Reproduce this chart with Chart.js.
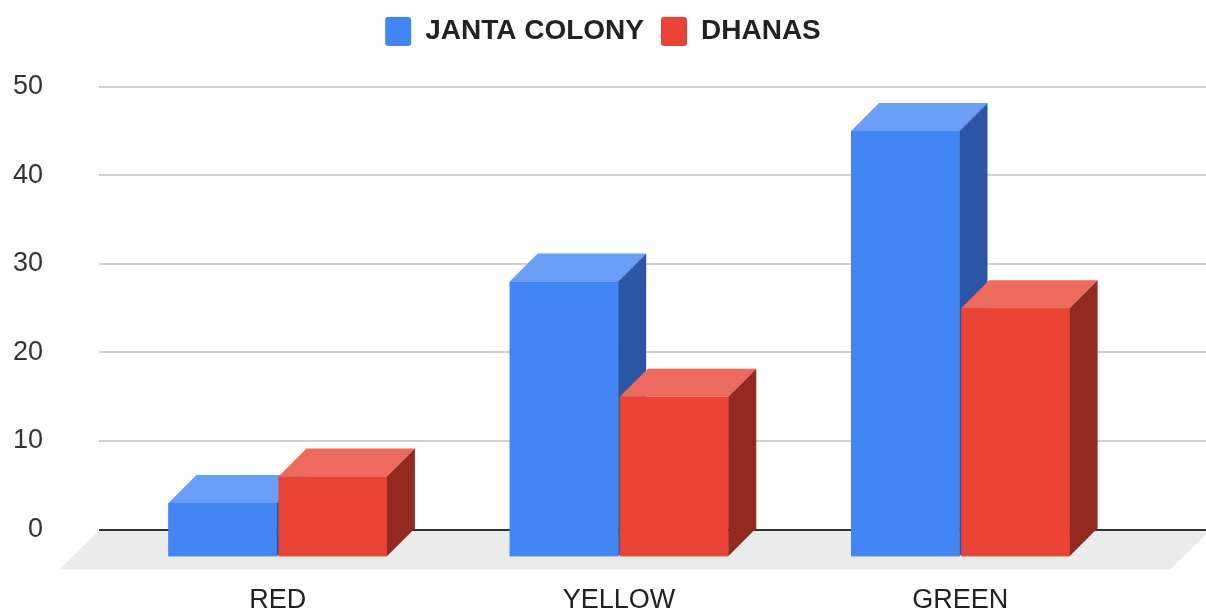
<!DOCTYPE html>
<html>
<head>
<meta charset="utf-8">
<script src="https://cdn.jsdelivr.net/npm/chart.js@4.4.1/dist/chart.umd.min.js"></script>
<style>
  html, body { margin: 0; padding: 0; background: #fff; }
  #grafico { display: block; }
</style>
</head>
<body>
<canvas id="grafico" width="1206" height="612"></canvas>
<script>
// dados do gráfico
const categorias = ['RED', 'YELLOW', 'GREEN'];
const jantaColony = [3, 28, 45];
const dhanas = [6, 15, 25];
const yTicks = [0, 10, 20, 30, 40, 50];

// aparência 3D
const PROF = 28;          // profundidade das barras (px)
const BASE_FRENTE = -3;   // a face da frente desce abaixo do zero
const coresBlue = { frente: '#4285f4', topo: '#6a9ef6', lado: '#2b56a6' };
const coresRed = { frente: '#ea4335', topo: '#ec6a5e', lado: '#942920' };
const faces = [coresBlue, coresRed];

// piso + linhas de grade, desenhados antes das barras
const pisoEGrade = {
    id: 'pisoEGrade',
    beforeDatasetsDraw(chart) {
        const { ctx, chartArea, scales } = chart;
        const y = scales.y;
        const y0 = y.getPixelForValue(0);
        const xEsq = chartArea.left - 8;
        const xDir = chart.width + 4;
        const fundo = chartArea.bottom;
        const d = fundo - y0;

        ctx.save();
        ctx.fillStyle = '#ebebeb';
        ctx.beginPath();
        ctx.moveTo(xEsq, y0 + 1);
        ctx.lineTo(xDir, y0 + 1);
        ctx.lineTo(xDir - d, fundo);
        ctx.lineTo(xEsq - d, fundo);
        ctx.closePath();
        ctx.fill();

        yTicks.forEach(v => {
            const py = Math.round(y.getPixelForValue(v));
            ctx.strokeStyle = v === 0 ? '#333333' : '#d0d0d0';
            ctx.lineWidth = 2;
            ctx.beginPath();
            ctx.moveTo(xEsq, py);
            ctx.lineTo(chart.width, py);
            ctx.stroke();
        });
        ctx.restore();
    }
};

// redesenha cada barra com topo e lateral, na ordem das séries
const barras3D = {
    id: 'barras3D',
    afterDatasetsDraw(chart) {
        const { ctx } = chart;
        ctx.save();
        chart.data.datasets.forEach((ds, i) => {
            const meta = chart.getDatasetMeta(i);
            const cor = faces[i];
            meta.data.forEach(bar => {
                const { x, y, base, width } = bar.getProps(['x', 'y', 'base', 'width'], true);
                const esq = x - width / 2;
                const dir = x + width / 2;

                ctx.fillStyle = cor.frente;
                ctx.fillRect(esq, y, width, base - y);

                ctx.fillStyle = cor.topo;
                ctx.beginPath();
                ctx.moveTo(esq, y);
                ctx.lineTo(esq + PROF, y - PROF);
                ctx.lineTo(dir + PROF, y - PROF);
                ctx.lineTo(dir, y);
                ctx.closePath();
                ctx.fill();

                ctx.fillStyle = cor.lado;
                ctx.beginPath();
                ctx.moveTo(dir, y);
                ctx.lineTo(dir + PROF, y - PROF);
                ctx.lineTo(dir + PROF, base - PROF);
                ctx.lineTo(dir, base);
                ctx.closePath();
                ctx.fill();
            });
        });
        ctx.restore();
    }
};

const fonte = '"Liberation Sans", Arial, sans-serif';

// eixo vazio, só reserva espaço
const eixoVazio = (posicao, largura, peso) => ({
    type: 'linear',
    position: posicao,
    weight: peso,
    display: true,
    grid: { display: false },
    border: { display: false },
    ticks: { display: false, padding: 0 },
    afterFit: axis => { axis.width = largura; }
});

new Chart(document.getElementById('grafico'), {
    type: 'bar',
    data: {
        labels: categorias,
        datasets: [
            {
                label: 'JANTA COLONY',
                data: jantaColony.map(v => [BASE_FRENTE, v]),
                backgroundColor: coresBlue.frente
            },
            {
                label: 'DHANAS',
                data: dhanas.map(v => [BASE_FRENTE, v]),
                backgroundColor: coresRed.frente
            }
        ]
    },
    options: {
        responsive: false,
        animation: false,
        devicePixelRatio: 1,
        categoryPercentage: 0.645,
        barPercentage: 0.985,
        layout: { padding: 0 },
        plugins: {
            tooltip: { enabled: false },
            legend: {
                position: 'top',
                labels: {
                    boxWidth: 26,
                    boxHeight: 29,
                    padding: 17,
                    useBorderRadius: true,
                    borderRadius: 3,
                    color: '#222',
                    font: { family: fonte, size: 28, weight: 'bold' }
                }
            }
        },
        scales: {
            x: {
                grid: { display: false },
                border: { display: false },
                ticks: {
                    color: '#222',
                    padding: 7,
                    font: { family: fonte, size: 27 }
                },
                afterFit: axis => { axis.height = 42.5; }
            },
            y: {
                weight: 2,
                min: -4.5,
                max: 53.46,
                grid: { display: false, drawTicks: false },
                border: { display: false },
                ticks: {
                    color: '#333',
                    padding: 0,
                    font: { family: fonte, size: 27 }
                },
                afterBuildTicks: axis => { axis.ticks = yTicks.map(v => ({ value: v })); },
                afterFit: axis => { axis.width = 43; }
            },
            margemEsquerda: eixoVazio('left', 64, 1),
            margemDireita: eixoVazio('right', 75, 1)
        }
    },
    plugins: [pisoEGrade, barras3D]
});
</script>
</body>
</html>
